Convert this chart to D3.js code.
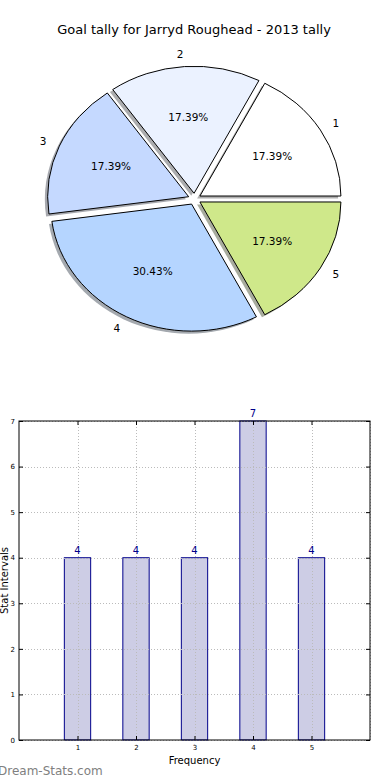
<!DOCTYPE html>
<html>
<head>
<meta charset="utf-8">
<script src="https://cdn.jsdelivr.net/npm/d3@7"></script>
<style>
body { margin: 0; background: #fff; }
svg { display: block; font-family: "DejaVu Sans", sans-serif; }
</style>
</head>
<body>
<svg id="chart" width="390" height="780"></svg>
<script>
// data
var title = "Goal tally for Jarryd Roughead - 2013 tally";
var categories = ["1", "2", "3", "4", "5"];
var counts = [4, 4, 4, 7, 4];
var sliceColors = ["#ffffff", "#ebf2ff", "#c5d9ff", "#b5d5ff", "#cfe88a"];
var yTicks = [0, 1, 2, 3, 4, 5, 6, 7];
var xTicks = [1, 2, 3, 4, 5];

var svg = d3.select("#chart");

// ---- pie ----
var cx = 194.5, cy = 199, rx = 141, ry = 127;
var explode = 0.045;

svg.append("text")
	.attr("x", 194).attr("y", 34)
	.attr("text-anchor", "middle")
	.style("font-size", "13px")
	.text(title);

var pie = d3.pie().sort(null)
	.startAngle(Math.PI / 2)
	.endAngle(Math.PI / 2 - 2 * Math.PI);
var arcs = pie(counts);
var total = d3.sum(counts);

var arc = d3.arc().innerRadius(0).outerRadius(1);
var offArc = d3.arc().innerRadius(explode).outerRadius(explode);
var pctArc = d3.arc().innerRadius(0.6 + explode).outerRadius(0.6 + explode);
var lblArc = d3.arc().innerRadius(1.1 + explode).outerRadius(1.1 + explode);

var pieG = svg.append("g").attr("transform", "translate(" + cx + "," + cy + ") scale(" + rx + "," + ry + ")");

// shadows first, under every wedge
pieG.selectAll("path.shadow")
	.data(arcs)
	.enter()
	.append("path")
	.attr("class", "shadow")
	.attr("d", arc)
	.attr("transform", function(d){
		var c = offArc.centroid(d);
		return "translate(" + (c[0] - 0.02) + "," + (c[1] + 0.02) + ")";
	})
	.style("fill", function(d, i){
		var c = d3.rgb(sliceColors[i]);
		return d3.rgb(c.r * 0.3, c.g * 0.3, c.b * 0.3);
	})
	.style("opacity", 0.45);

pieG.selectAll("path.wedge")
	.data(arcs)
	.enter()
	.append("path")
	.attr("class", "wedge")
	.attr("d", arc)
	.attr("transform", function(d){
		var c = offArc.centroid(d);
		return "translate(" + c[0] + "," + c[1] + ")";
	})
	.style("fill", function(d, i){ return sliceColors[i]; })
	.style("stroke", "#000")
	.style("stroke-width", 1)
	.attr("vector-effect", "non-scaling-stroke");

svg.selectAll("text.pct")
	.data(arcs)
	.enter()
	.append("text")
	.attr("class", "pct")
	.attr("x", function(d){ return cx + pctArc.centroid(d)[0] * rx; })
	.attr("y", function(d){ return cy + pctArc.centroid(d)[1] * ry; })
	.attr("dy", "0.35em")
	.attr("text-anchor", "middle")
	.style("font-size", "10.5px")
	.text(function(d){ return (d.value / total * 100).toFixed(2) + "%"; });

svg.selectAll("text.lbl")
	.data(arcs)
	.enter()
	.append("text")
	.attr("class", "lbl")
	.attr("x", function(d){ return cx + lblArc.centroid(d)[0] * rx; })
	.attr("y", function(d){ return cy + lblArc.centroid(d)[1] * ry; })
	.attr("dy", "0.35em")
	.attr("text-anchor", function(d){ return lblArc.centroid(d)[0] > 0 ? "start" : "end"; })
	.style("font-size", "10.5px")
	.text(function(d, i){ return categories[i]; });

// ---- bars ----
var plotL = 19, plotR = 370, plotT = 421, plotB = 740;
var x = d3.scaleLinear().domain([0, 6]).range([plotL, plotR]);
var y = d3.scaleLinear().domain([0, 7]).range([plotB, plotT]);
var barW = 0.45;

svg.selectAll("rect.bar")
	.data(counts)
	.enter()
	.append("rect")
	.attr("class", "bar")
	.attr("x", function(d, i){ return x(+categories[i] - barW / 2); })
	.attr("width", x(barW) - x(0))
	.attr("y", function(d){ return y(d); })
	.attr("height", function(d){ return y(0) - y(d); })
	.style("fill", "#cdcde5")
	.style("stroke", "#00008b")
	.style("stroke-width", 1);

var grid = svg.append("g").style("stroke", "#bbbbbb").style("stroke-dasharray", "1,2");
grid.selectAll("line.gy")
	.data(yTicks)
	.enter()
	.append("line")
	.attr("x1", plotL).attr("x2", plotR)
	.attr("y1", function(d){ return Math.round(y(d)) + 0.5; })
	.attr("y2", function(d){ return Math.round(y(d)) + 0.5; });
grid.selectAll("line.gx")
	.data(xTicks.concat([6]))
	.enter()
	.append("line")
	.attr("y1", plotT).attr("y2", plotB)
	.attr("x1", function(d){ return Math.round(x(d)) + 0.5; })
	.attr("x2", function(d){ return Math.round(x(d)) + 0.5; });

// inward ticks on all sides
var yAxisL = d3.axisLeft(y).tickValues(yTicks).tickSize(-4).tickPadding(4).tickFormat(d3.format("d"));
var yAxisR = d3.axisRight(y).tickValues(yTicks).tickSize(-4).tickFormat("");
var xAxisB = d3.axisBottom(x).tickValues(xTicks).tickSize(-4).tickPadding(5).tickFormat(d3.format("d"));
var xAxisT = d3.axisTop(x).tickValues(xTicks).tickSize(-4).tickFormat("");

svg.append("g").attr("transform", "translate(" + plotL + ",0)").call(yAxisL);
svg.append("g").attr("transform", "translate(" + plotR + ",0)").call(yAxisR);
svg.append("g").attr("transform", "translate(0," + plotB + ")").call(xAxisB);
svg.append("g").attr("transform", "translate(0," + plotT + ")").call(xAxisT);
svg.selectAll(".domain").remove();
svg.selectAll(".tick text").style("font-size", "7px").style("font-family", "DejaVu Sans");
svg.selectAll(".tick line").style("stroke", "#000");

svg.append("rect")
	.attr("x", plotL).attr("y", plotT)
	.attr("width", plotR - plotL).attr("height", plotB - plotT)
	.style("fill", "none").style("stroke", "#000").style("stroke-width", 1);

svg.selectAll("text.val")
	.data(counts)
	.enter()
	.append("text")
	.attr("class", "val")
	.attr("x", function(d, i){ return x(+categories[i]); })
	.attr("y", function(d){ return y(d) - 4; })
	.attr("text-anchor", "middle")
	.style("font-size", "10px")
	.style("fill", "#00008b")
	.text(function(d){ return d; });

svg.append("text")
	.attr("x", (plotL + plotR) / 2).attr("y", 764)
	.attr("text-anchor", "middle")
	.style("font-size", "10px")
	.text("Frequency");

svg.append("text")
	.attr("transform", "translate(8," + (plotT + plotB) / 2 + ") rotate(-90)")
	.attr("text-anchor", "middle")
	.style("font-size", "10px")
	.text("Stat Intervals");

svg.append("text")
	.attr("x", -2).attr("y", 775)
	.style("font-size", "12px")
	.style("fill", "#808080")
	.text("Dream-Stats.com");
</script>
</body>
</html>
